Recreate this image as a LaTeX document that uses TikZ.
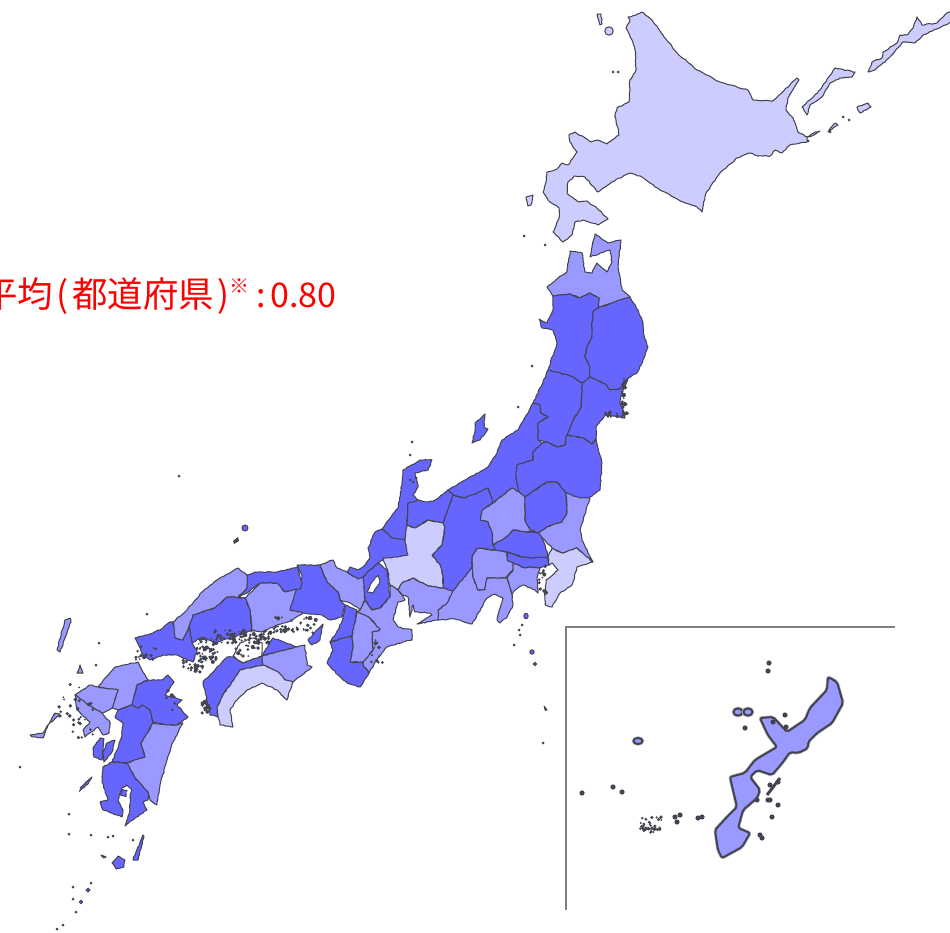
\documentclass[tikz,border=0pt]{standalone}
\usepackage{fontspec}
\usetikzlibrary{decorations.pathmorphing}
\newfontfamily\jpf{Noto Sans CJK JP}
\definecolor{dk}{HTML}{6666FF}
\definecolor{md}{HTML}{9999FF}
\definecolor{lt}{HTML}{CCCCFF}
\definecolor{ln}{HTML}{444450}
\tikzset{
 base/.style={draw=ln,line width=1.05pt,line join=round,decorate,decoration={random steps,segment length=2.6pt,amplitude=.5pt}},
 pa/.style={base,fill=dk},
 pb/.style={base,fill=md},
 pc/.style={base,fill=lt},
 pw/.style={base,fill=white},
 ink/.style={fill=ln,draw=none},
 insetline/.style={draw=black!50,line width=2pt},
 oki/.style={draw=ln,line width=2pt,line join=round,rounded corners=2pt,fill=md,preaction={draw=ln!40,line width=3.4pt}}
}
\newcommand{\specks}[1]{\foreach \p/\q in {#1}{\fill[ink] (\p,\q) circle (1.5);}}
\newcommand{\blobs}[5]{\foreach \i in {1,...,#5}{\pgfmathsetmacro\xa{#1+rnd*#3}\pgfmathsetmacro\ya{#2+rnd*#4}\pgfmathsetmacro\ra{0.9+rnd*1.2}\fill[ink] (\xa,\ya) circle (\ra);}}
\begin{document}
\begin{tikzpicture}[x=1pt,y=-1pt]
\useasboundingbox (0,0) rectangle (950,933);
\pgfmathsetseed{7}
% Hokkaido
\draw[pc] (642,12)--(636,15)--(628,17)--(630,20)--(626,28)--(632,40)--(635,50)--(636,70)--(630,80)--(629,102)--(617,108)--(615,117)--(619,135)--(607,144)--(598,140)--(591,142)--(575,132)--(569,135)--(570,142)--(577,152)--(568,165)--(562,163)--(557,169)--(547,172)--(546,182)--(543,192)--(548,200)--(559,208)--(559,218)--(553,232)--(563,242)--(572,235)--(575,222)--(583,220)--(598,225)--(608,219)--(597,208)--(587,201)--(578,202)--(567,193)--(568,182)--(575,176)--(585,177)--(598,192)--(612,182)--(630,173)--(642,177)--(660,190)--(683,202)--(697,207)--(702,212)--(706,193)--(720,173)--(737,158)--(750,153)--(758,156)--(770,156)--(775,150)--(782,153)--(790,145)--(807,142)--(807,137)--(798,132)--(793,118)--(786,110)--(788,98)--(799,80)--(797,78)--(773,101)--(753,100)--(748,90)--(720,82)--(697,70)--(677,53)--(663,35)--(652,20)--cycle;
\draw[pc] (807,137)--(815,132)--(820,131)--(812,136)--cycle;
\draw[pc] (947,13)--(937,23)--(922,25)--(917,17)--(913,28)--(907,35)--(900,35)--(897,43)--(883,52)--(882,58)--(872,62)--(868,72)--(875,70)--(890,57)--(903,42)--(915,43)--(923,35)--(952,22)--(952,12)--cycle;
\draw[pc] (835,68)--(855,72)--(852,77)--(840,78)--(830,83)--(822,97)--(810,105)--(807,115)--(802,107)--(820,90)--cycle;
\draw[pc] (857,107)--(868,103)--(871,107)--(860,113)--cycle;
\draw[pc] (835,123)--(838,125)--(828,132)--cycle;
\draw[base,fill=lt,decorate=false] (609,31) circle (4.2);
\draw[pc] (597,14)--(601,14)--(602,24)--(600,25)--cycle;
\draw[pc] (526,197)--(533,195)--(531,205)--(528,206)--cycle;
% Tohoku
\draw[pb] (553,296)--(547,287)--(558,278)--(567,272)--(570,251)--(582,253)--(585,272)--(592,273)--(597,263)--(607,272)--(612,262)--(610,250)--(590,257)--(595,234)--(608,243)--(621,240)--(618,267)--(622,290)--(630,297)--(617,301)--(598,308)--(599,298)--(590,293)--(580,298)--(570,294)--cycle;
\draw[pa] (553,296)--(570,294)--(580,298)--(590,293)--(599,298)--(598,308)--(593,312)--(592,328)--(592,337)--(587,347)--(585,357)--(590,367)--(590,377)--(582,383)--(573,377)--(560,373)--(548,370)--(557,343)--(553,330)--(542,328)--(539,319)--(547,323)--(553,310)--cycle;
\draw[pa] (630,297)--(638,310)--(643,323)--(644,335)--(648,347)--(643,360)--(637,373)--(628,378)--(620,389)--(610,390)--(605,384)--(590,377)--(590,367)--(585,357)--(587,347)--(592,337)--(592,328)--(593,312)--(598,308)--(617,301)--cycle;
\draw[pa] (590,377)--(605,384)--(610,390)--(620,389)--(628,378)--(623,390)--(620,402)--(625,418)--(605,415)--(596,427)--(596,439)--(592,444)--(583,438)--(567,435)--(573,420)--(581,407)--(582,390)--(582,383)--cycle;
\draw[pa] (548,370)--(560,373)--(573,377)--(582,383)--(582,390)--(581,407)--(573,420)--(567,435)--(565,445)--(557,447)--(547,442)--(538,440)--(538,423)--(548,417)--(540,412)--(540,405)--(533,403)--(543,382)--cycle;
% Niigata, Sado
\draw[pa] (533,403)--(540,405)--(540,412)--(548,417)--(538,423)--(538,440)--(542,443)--(533,452)--(533,460)--(517,465)--(516,477)--(519,492)--(512,488)--(493,503)--(488,488)--(477,493)--(465,498)--(453,495)--(448,490)--(467,479)--(488,467)--(497,453)--(502,440)--(518,430)--(528,413)--cycle;
\draw[pa] (485,414)--(475,423)--(475,432)--(472,443)--(480,440)--(488,429)--(484,427)--cycle;
\draw[pa] (542,443)--(547,442)--(557,447)--(565,445)--(567,435)--(583,438)--(592,444)--(596,439)--(602,463)--(600,490)--(590,497)--(580,500)--(566,493)--(557,482)--(547,482)--(525,497)--(519,492)--(516,477)--(517,465)--(533,460)--(533,452)--cycle;
% Kanto
\draw[pb] (519,492)--(525,497)--(525,507)--(525,520)--(530,530)--(538,533)--(513,530)--(505,538)--(493,545)--(492,533)--(488,522)--(480,520)--(482,510)--(493,503)--(512,488)--cycle;
\draw[pa] (525,497)--(547,482)--(557,482)--(566,493)--(567,513)--(562,522)--(547,527)--(538,533)--(530,530)--(525,520)--(525,507)--cycle;
\draw[pb] (566,493)--(580,498)--(590,498)--(580,530)--(582,540)--(593,562)--(577,548)--(562,553)--(552,548)--(540,535)--(538,533)--(547,527)--(562,522)--(567,513)--cycle;
\draw[pa] (513,530)--(538,533)--(540,535)--(545,545)--(548,557)--(530,558)--(522,557)--(507,552)--(495,550)--(493,545)--(505,538)--cycle;
\draw[pa] (507,552)--(522,557)--(530,558)--(548,557)--(549,565)--(540,568)--(530,567)--(525,568)--(513,563)--(507,560)--cycle;
\draw[pc] (548,557)--(552,548)--(562,553)--(577,548)--(593,562)--(583,565)--(577,567)--(572,585)--(560,593)--(552,607)--(545,605)--(545,593)--(546,580)--(558,570)--(552,563)--(549,565)--cycle;
\draw[pb] (513,563)--(525,568)--(530,567)--(540,568)--(537,577)--(538,593)--(535,590)--(523,585)--(515,590)--(512,595)--(507,578)--(513,570)--cycle;
\draw[pb] (477,548)--(495,550)--(507,552)--(507,560)--(513,563)--(513,570)--(505,578)--(492,578)--(487,578)--(485,590)--(478,590)--(473,578)--(472,567)--(472,557)--cycle;
\draw[pb] (470,570)--(453,590)--(447,603)--(438,610)--(438,620)--(455,619)--(472,624)--(487,598)--(495,594)--(503,598)--(497,620)--(500,623)--(507,617)--(513,605)--(512,595)--(507,578)--(505,578)--(487,578)--(485,590)--(478,590)--(473,578)--(472,567)--cycle;
\draw[pa] (453,495)--(465,498)--(477,493)--(488,488)--(493,503)--(482,510)--(480,520)--(488,522)--(492,533)--(493,545)--(495,550)--(477,548)--(472,557)--(472,567)--(470,570)--(453,591)--(443,588)--(443,577)--(440,565)--(432,555)--(442,545)--(445,527)--(443,523)--(450,503)--cycle;
% Hokuriku, Chubu
\draw[pa] (435,500)--(448,490)--(453,495)--(450,503)--(443,523)--(428,520)--(415,528)--(407,525)--(408,503)--(418,500)--(428,502)--cycle;
\draw[pa] (382,529)--(398,508)--(402,483)--(403,470)--(420,460)--(432,460)--(428,470)--(415,473)--(418,487)--(413,495)--(418,500)--(408,503)--(407,525)--(405,540)--(392,538)--cycle;
\draw[pa] (382,529)--(392,538)--(405,540)--(408,555)--(397,557)--(383,560)--(378,563)--(370,570)--(363,577)--(358,579)--(347,572)--(350,567)--(358,570)--(365,565)--(370,558)--(368,548)--(375,532)--cycle;
\draw[pc] (407,525)--(415,528)--(428,520)--(443,523)--(445,527)--(442,545)--(432,555)--(440,565)--(443,577)--(443,588)--(428,586)--(413,578)--(402,583)--(398,590)--(390,585)--(388,572)--(383,558)--(397,557)--(408,555)--(405,540)--cycle;
\draw[pb] (402,583)--(413,578)--(428,586)--(443,588)--(453,591)--(447,603)--(438,610)--(438,620)--(417,624)--(432,615)--(430,613)--(415,612)--(413,605)--(410,617)--(408,597)--(402,595)--(398,590)--cycle;
\draw[pb] (390,585)--(398,590)--(402,595)--(405,600)--(398,602)--(393,620)--(398,627)--(412,630)--(412,640)--(403,642)--(387,647)--(378,658)--(369,673)--(363,665)--(363,662)--(373,650)--(372,632)--(380,630)--(370,618)--(357,612)--(360,610)--(365,600)--(372,610)--(380,608)--(390,597)--cycle;
% Kinki
\draw[pa] (378,563)--(387,570)--(390,597)--(380,608)--(372,610)--(365,600)--(363,577)--(370,570)--cycle;
\draw[pw] (378,575)--(380,582)--(373,593)--(367,592)--(372,582)--cycle;
\draw[pb] (320,565)--(333,560)--(337,568)--(347,572)--(358,579)--(363,577)--(365,600)--(360,610)--(357,607)--(350,603)--(340,600)--(338,592)--(327,582)--cycle;
\draw[pa] (297,565)--(320,565)--(327,582)--(338,592)--(340,600)--(345,605)--(342,617)--(330,620)--(322,615)--(303,613)--(290,610)--(293,595)--(301,583)--(302,575)--cycle;
\draw[pa] (323,624)--(320,640)--(312,645)--(308,640)--cycle;
\draw[pa] (345,605)--(357,610)--(352,636)--(330,642)--(338,630)--(343,618)--cycle;
\draw[pb] (357,612)--(370,618)--(380,630)--(372,632)--(373,650)--(363,662)--(350,662)--(353,647)--(352,636)--cycle;
\draw[pa] (330,642)--(352,636)--(353,647)--(350,662)--(363,662)--(363,665)--(369,673)--(360,687)--(347,683)--(338,675)--(327,663)--(333,650)--cycle;
% Chugoku
\draw[pa] (247,575)--(255,572)--(277,572)--(297,567)--(302,583)--(300,589)--(285,592)--(277,583)--(260,583)--(247,593)--(238,597)--(247,588)--cycle;
\draw[pb] (245,598)--(260,583)--(277,583)--(285,592)--(296,589)--(290,610)--(303,613)--(288,622)--(277,625)--(262,632)--(252,630)--(250,610)--cycle;
\draw[pb] (238,568)--(247,575)--(247,588)--(238,597)--(245,598)--(227,597)--(215,608)--(193,615)--(189,627)--(183,640)--(175,638)--(173,622)--(187,610)--(202,592)--(217,580)--cycle;
\draw[pa] (227,597)--(245,598)--(250,610)--(252,630)--(240,635)--(223,640)--(215,643)--(202,637)--(192,643)--(189,627)--(193,615)--(215,608)--cycle;
\draw[pa] (170,622)--(173,622)--(175,638)--(183,640)--(189,627)--(192,643)--(197,650)--(193,662)--(177,655)--(163,655)--(150,660)--(143,655)--(135,638)--(153,633)--(163,628)--cycle;
% Shikoku
\draw[pa] (203,682)--(227,657)--(233,657)--(243,663)--(262,656)--(263,665)--(240,670)--(237,675)--(223,695)--(217,707)--(218,717)--(210,715)--(205,690)--cycle;
\draw[pw] (233,656)--(240,643)--(253,638)--(262,643)--(262,656)--(243,663)--cycle;
\draw[pa] (262,656)--(273,638)--(297,647)--cycle;
\draw[pb] (263,665)--(262,656)--(297,647)--(305,645)--(307,665)--(312,667)--(293,682)--(285,680)--(278,672)--cycle;
\draw[pc] (240,670)--(263,665)--(278,672)--(285,680)--(293,682)--(287,700)--(277,690)--(262,683)--(247,690)--(237,700)--(230,710)--(233,727)--(220,725)--(218,717)--(217,707)--(223,695)--(237,675)--cycle;
% Kyushu
\draw[pb] (115,667)--(138,662)--(142,670)--(148,680)--(137,685)--(132,705)--(118,710)--(112,708)--(118,690)--(98,687)--(105,678)--cycle;
\draw[pb] (90,685)--(98,687)--(118,690)--(112,708)--(102,713)--(92,707)--(77,702)--(75,695)--cycle;
\draw[pb] (75,695)--(92,707)--(102,713)--(110,722)--(109,733)--(103,735)--(98,727)--(85,737)--(83,730)--(90,722)--(77,710)--cycle;
\draw[pa] (148,680)--(162,680)--(168,675)--(174,682)--(165,695)--(182,700)--(177,705)--(188,717)--(177,725)--(167,725)--(153,722)--(150,710)--(142,705)--(138,708)--(132,705)--(137,685)--cycle;
\draw[pa] (118,710)--(132,705)--(138,708)--(142,705)--(150,710)--(153,722)--(145,737)--(141,743)--(145,757)--(127,763)--(112,762)--(117,750)--(122,735)--(123,723)--(115,717)--cycle;
\draw[pa] (100,738)--(104,739)--(102,760)--(94,757)--(93,748)--cycle;
\draw[pa] (107,743)--(115,740)--(113,750)--(104,762)--(103,752)--cycle;
\draw[pb] (153,723)--(167,725)--(177,725)--(183,723)--(173,742)--(167,760)--(160,785)--(157,805)--(150,800)--(148,792)--(135,778)--(127,763)--(145,757)--(141,743)--(145,737)--cycle;
\draw[pa] (103,767)--(112,762)--(127,763)--(135,778)--(148,792)--(148,800)--(143,802)--(147,810)--(135,818)--(125,826)--(130,810)--(130,797)--(132,790)--(127,785)--(122,788)--(118,800)--(123,810)--(122,817)--(103,810)--(100,802)--(108,800)--(102,782)--cycle;
\draw[pa] (124,793) circle (2.2);
% islands
\draw[pb] (70,618)--(65,620)--(57,650)--(60,652)--(65,638)--(71,622)--cycle;
\draw[pb] (80,665)--(83,673)--(77,673)--cycle;
\draw[pb] (30,735)--(43,733)--(55,713)--(60,714)--(48,725)--(43,738)--(32,737)--cycle;
\draw[pa] (80,788)--(92,777)--(88,784)--(81,790)--cycle;
\draw[pa] (133,860)--(143,835)--(144,836)--(138,860)--cycle;
\draw[pa] (118,856)--(125,860)--(124,867)--(116,869)--(112,863)--cycle;
\draw[pa] (101,855)--(106,857)--(104,858)--cycle;
\fill[dk,draw=ln,line width=1pt] (88,890) circle (1.8);
\fill[dk,draw=ln,line width=1pt] (81,902) circle (1.7);
\fill[dk,draw=ln,line width=1pt] (526,616) ellipse (2.2 and 2.8);
\fill[dk,draw=ln,line width=1pt] (532,652) circle (2.2);
\fill[dk,draw=ln,line width=1pt] (535,664) circle (1.6);
\fill[dk,draw=ln,line width=1pt] (245,528) circle (3);
\fill[ink] (233,541)--(238,537)--(239,541)--(234,544)--cycle;
\draw[pa] (544,706)--(547,710)--(545,710)--cycle;
% specks
\specks{613/72,618/72,524/236,545/245,532/366,518/407,412/442,410/455,514/645,520/635,519/630,522/625,543/743,
147/614,99/643,96/665,69/814,69/834,91/835,108/837,113/836,133/840,73/887,91/883,73/899,76/912,63/925,57/929,20/767,
843/117,849/120,830/132,808/141,179/476,413/482,416/478,410/480}
\blobs{196}{638}{22}{24}{60}
\blobs{213}{630}{58}{13}{80}
\blobs{273}{617}{44}{16}{45}
\blobs{183}{660}{20}{12}{24}
\blobs{200}{700}{10}{14}{22}
\blobs{235}{642}{25}{16}{14}
\blobs{52}{680}{30}{40}{14}
\blobs{165}{690}{10}{22}{8}
\blobs{135}{640}{22}{20}{14}
\blobs{622}{378}{4}{38}{30}
\blobs{605}{412}{22}{5}{16}
\blobs{70}{700}{24}{40}{16}
\blobs{370}{640}{14}{26}{14}
\blobs{538}{565}{8}{30}{12}
% Okinawa inset
\draw[insetline] (895,627)--(566,627)--(566,910);
\draw[oki] (828,677)--(837,682)--(843,703)--(832,723)--(817,733)--(808,742)--(808,748)--(798,753)--(790,752)--(783,762)--(772,775)--(757,770)--(750,777)--(760,790)--(757,798)--(743,810)--(738,828)--(750,833)--(742,847)--(722,858)--(718,850)--(715,830)--(727,817)--(737,807)--(730,777)--(745,773)--(755,760)--(777,747)--(768,735)--(760,718)--(773,717)--(787,732)--(805,720)--(810,708)--(827,690)--cycle;
\draw[oki] (738,712) ellipse (4.5 and 3.6);
\draw[oki] (748,712) ellipse (4.5 and 3.6);
\draw[oki] (638,741) ellipse (4.5 and 3);
\foreach \p/\q in {769/663,768/671,773/722,785/715,786/727,745/728,613/787,622/792,582/793,702/817,675/817,677/822,
760/835,762/838,770/785,778/782,768/800,778/805,772/817,770/800,757/800,698/818,680/815}{\fill[ink] (\p,\q) circle (2.6);}
\blobs{640}{817}{22}{16}{40}
\draw[ln,line width=3pt] (780,778)--(767,795);
% title
\node[anchor=base west,inner sep=0pt,text=red,font=\jpf\fontsize{35.5}{38}\selectfont] (title) at (-18,307) {平均\kern.1em(\kern.1em都道府県\kern.08em)\raisebox{.38em}{\fontsize{20}{20}\selectfont ※}\kern.2em{\fontsize{34}{36}\selectfont :\kern.14em0.80}};
\end{tikzpicture}
\end{document}
